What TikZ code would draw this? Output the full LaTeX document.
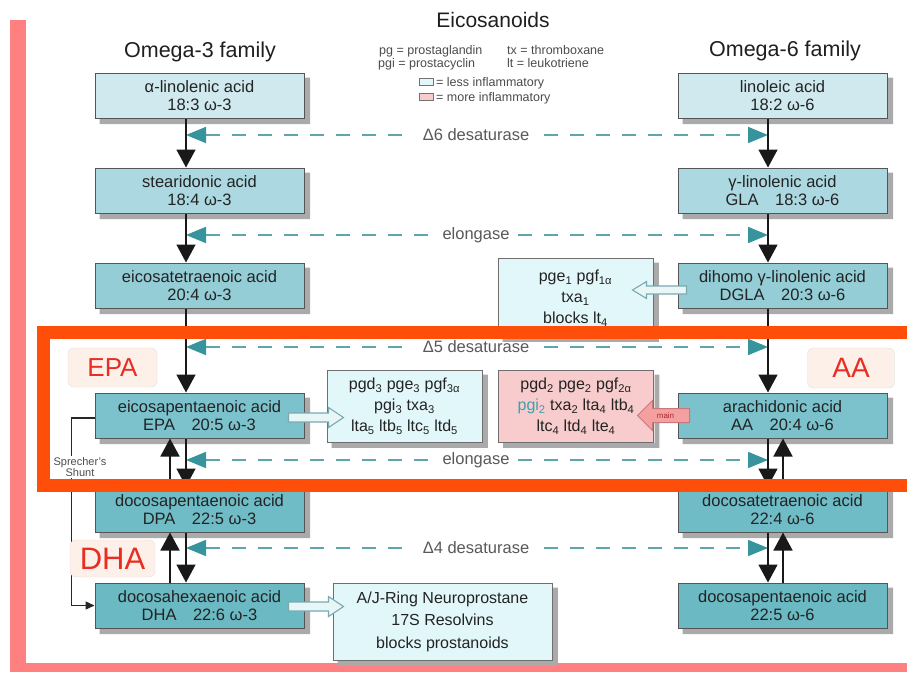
\documentclass[tikz,border=0pt]{standalone}
\usepackage{fontspec}
\setmainfont{Liberation Sans}
\usetikzlibrary{arrows.meta,calc}
\definecolor{framepink}{RGB}{255,128,128}
\definecolor{frameorange}{RGB}{255,78,10}
\definecolor{cA}{RGB}{208,233,239}
\definecolor{cB}{RGB}{172,217,225}
\definecolor{cC}{RGB}{148,205,214}
\definecolor{cD}{RGB}{124,194,204}
\definecolor{cE}{RGB}{112,188,198}
\definecolor{cF}{RGB}{106,185,195}
\definecolor{prodfill}{RGB}{226,247,250}
\definecolor{pinkfill}{RGB}{248,204,204}
\definecolor{mainfill}{RGB}{244,160,160}
\definecolor{mainline}{RGB}{200,120,120}
\definecolor{maintext}{RGB}{170,40,40}
\definecolor{enzteal}{RGB}{55,148,156}
\definecolor{dashteal}{RGB}{95,165,172}
\definecolor{peach}{RGB}{253,240,233}
\definecolor{labelred}{RGB}{232,45,35}
\definecolor{boxline}{RGB}{85,85,85}
\definecolor{txt}{RGB}{35,35,35}
\definecolor{pgiteal}{RGB}{60,160,176}
\definecolor{hollowfill}{RGB}{232,246,248}
\definecolor{hollowline}{RGB}{120,170,176}
\definecolor{shadowgray}{RGB}{170,170,170}
\tikzset{
  box/.style={draw=boxline, line width=1pt, minimum width=209pt, minimum height=45pt,
    inner sep=0pt, align=center, text=txt, font=\fontsize{16.5}{18}\selectfont},
  prod/.style={draw=boxline!85, line width=0.9pt, fill=prodfill, minimum width=155pt,
    minimum height=72pt, inner sep=0pt, align=center, text=txt,
    font=\fontsize{16}{21}\selectfont},
  lbl/.style={draw=black!12, fill=peach, rounded corners=6pt, text=labelred, inner sep=0pt},
  enz/.style={dashteal, line width=1.8pt, dash pattern=on 14pt off 12pt,
    {Triangle[width=16pt,length=20pt,color=enzteal]}-{Triangle[width=16pt,length=20pt,color=enzteal]}},
  enzlbl/.style={fill=white, inner xsep=9pt, inner ysep=2pt, text=black!65,
    font=\fontsize{16.5}{18}\selectfont},
  flow/.style={draw=black!90, line width=1.6pt, -{Triangle[width=19pt,length=18pt]}},
  hollow/.style={draw=hollowline, fill=hollowfill, line width=1.1pt, line join=miter},
  legtxt/.style={anchor=base west, inner sep=0pt, text=black!70, font=\fontsize{12.5}{14}\selectfont},
  legbox/.style={draw=black!55, line width=0.6pt, minimum width=14pt, minimum height=7pt, inner sep=0pt},
  title/.style={anchor=base, inner sep=0pt, text=black!88, font=\fontsize{21.5}{24}\selectfont},
  shadowstrip/.style={fill=shadowgray, draw=none}
}
\begin{document}
\begin{tikzpicture}[x=1pt,y=-1pt]
\useasboundingbox (0,0) rectangle (907,672);
\fill[white] (0,0) rectangle (907,672);
% pink frame
\fill[framepink] (10,20) rectangle (26,672);
\fill[framepink] (10,663) rectangle (907,672);

% titles and legend
\node[title] (t3) at (200,57) {Omega-3 family};
\node[title] (t6) at (785,56) {Omega-6 family};
\node[title, font=\fontsize{21}{24}\selectfont] (eico) at (493,27) {Eicosanoids};
\node[legtxt] (lg1) at (379,54) {pg = prostaglandin};
\node[legtxt] (lg2) at (378,67) {pgi = prostacyclin};
\node[legtxt] (lg3) at (507,54) {tx = thromboxane};
\node[legtxt] (lg4) at (507,67) {lt = leukotriene};
\node[legbox, fill=prodfill] (lgb1) at (426,81.5) {};
\node[legbox, fill=pinkfill] (lgb2) at (426,96.5) {};
\node[legtxt] (lg5) at (436,86) {= less inflammatory};
\node[legtxt] (lg6) at (436,101) {= more inflammatory};

% enzyme dashed lines
\foreach \n/\y in {1/135,2/235,3/347,4/460,5/548}{
  \coordinate (d\n L) at (186,\y);
  \coordinate (d\n R) at (768,\y);
  \draw[enz] (d\n L) -- (d\n R);
}
\node[enzlbl] (e1) at (476,135) {Δ6 desaturase};
\node[enzlbl] (e2) at (476,235) {elongase};
\node[enzlbl] (e3) at (476,347) {Δ5 desaturase};
\node[enzlbl] (e4) at (476,460) {elongase};
\node[enzlbl] (e5) at (476,548) {Δ4 desaturase};

% columns
\coordinate (cl) at (186,0);
\coordinate (cr) at (768,0);
\coordinate (ul) at (170,0);
\coordinate (ur) at (783,0);

% omega-3 boxes
\node[box, fill=cA] (ala) at (199.5,95.5) {α-linolenic acid\\18:3 ω-3};
\node[box, fill=cB] (sda) at (199.5,190.5) {stearidonic acid\\18:4 ω-3};
\node[box, fill=cC] (eta) at (199.5,285.5) {eicosatetraenoic acid\\20:4 ω-3};
\node[box, fill=cD] (epa) at (199.5,415.5) {eicosapentaenoic acid\\EPA\quad 20:5 ω-3};
\node[box, fill=cE] (dpa) at (199.5,509.5) {docosapentaenoic acid\\DPA\quad 22:5 ω-3};
\node[box, fill=cF] (dha) at (199.5,605.5) {docosahexaenoic acid\\DHA\quad 22:6 ω-3};
% omega-6 boxes
\node[box, fill=cA] (la) at (782.5,95.5) {linoleic acid\\18:2 ω-6};
\node[box, fill=cB] (gla) at (782.5,190.5) {γ-linolenic acid\\GLA\quad 18:3 ω-6};
\node[box, fill=cC] (dgla) at (782.5,285.5) {dihomo γ-linolenic acid\\DGLA\quad 20:3 ω-6};
\node[box, fill=cD] (aa) at (782.5,415.5) {arachidonic acid\\AA\quad 20:4 ω-6};
\node[box, fill=cE] (dta) at (782.5,509.5) {docosatetraenoic acid\\22:4 ω-6};
\node[box, fill=cF] (dpa6) at (782.5,605.5) {docosapentaenoic acid\\22:5 ω-6};

% product boxes
\node[prod, minimum height=78pt, text depth=0pt] (p1) at (575.5,297)
  {\fontsize{16}{19}\selectfont pge\textsubscript{1} pgf\textsubscript{1α}\\txa\textsubscript{1}\\blocks lt\textsubscript{4}};
\node[prod] (p3) at (404.5,406)
  {pgd\textsubscript{3} pge\textsubscript{3} pgf\textsubscript{3α}\\pgi\textsubscript{3} txa\textsubscript{3}\\lta\textsubscript{5} ltb\textsubscript{5} ltc\textsubscript{5} ltd\textsubscript{5}};
\node[prod, fill=pinkfill] (p2) at (576,406)
  {pgd\textsubscript{2} pge\textsubscript{2} pgf\textsubscript{2α}\\{\color{pgiteal}pgi\textsubscript{2}} txa\textsubscript{2} lta\textsubscript{4} ltb\textsubscript{4}\\ltc\textsubscript{4} ltd\textsubscript{4} lte\textsubscript{4}};
\node[prod, minimum width=219pt, minimum height=77pt, font=\fontsize{16}{22.5}\selectfont] (pr) at (442.5,621.5)
  {A/J-Ring Neuroprostane\\17S Resolvins\\blocks prostanoids};

% drop shadows: an L-shaped strip along the right and lower sides of each box
\foreach \b in {ala,sda,eta,epa,dpa,dha,la,gla,dgla,aa,dta,dpa6,p1,p2,p3,pr}{
  \path (\b.north east) coordinate (sNE) (\b.south east) coordinate (sSE)
        (\b.south west) coordinate (sSW);
  \fill[shadowstrip] ($(sNE)+(0.6,5)$) -- ($(sNE)+(5.5,5)$) -- ($(sSE)+(5.5,5.5)$)
     -- ($(sSW)+(5,5.5)$) -- ($(sSW)+(5,0.6)$) -- ($(sSE)+(0.6,0.6)$) -- cycle;
}

% down arrows
\draw[flow] (ala.south -| cl) -- (sda.north -| cl);
\draw[flow] (sda.south -| cl) -- (eta.north -| cl);
\draw[flow] (eta.south -| cl) -- (epa.north -| cl);
\draw[flow] (epa.south -| cl) -- (dpa.north -| cl);
\draw[flow] (dpa.south -| cl) -- (dha.north -| cl);
\draw[flow] (la.south -| cr) -- (gla.north -| cr);
\draw[flow] (gla.south -| cr) -- (dgla.north -| cr);
\draw[flow] (dgla.south -| cr) -- (aa.north -| cr);
\draw[flow] (aa.south -| cr) -- (dta.north -| cr);
\draw[flow] (dta.south -| cr) -- (dpa6.north -| cr);
% up arrows
\draw[flow] (dpa.north -| ul) -- (epa.south -| ul);
\draw[flow] (dha.north -| ul) -- (dpa.south -| ul);
\draw[flow] (dta.north -| ur) -- (aa.south -| ur);
\draw[flow] (dpa6.north -| ur) -- (dta.south -| ur);

% Sprecher's shunt
\draw[draw=black!85, line width=1.3pt, -{Triangle[width=8pt,length=9pt]}]
  ($(epa.west)+(0,2.5)$) -- ++(-23,0) |- (dha.west);
\node[fill=white, inner sep=1pt, align=center, text=black!70,
  font=\fontsize{11}{11.5}\selectfont] (shunt) at (80,467) {Sprecher's\\Shunt};

% block arrows
\draw[hollow, shift={($(epa.east)+(0,2)$)}]
  (-16,-4.5) -- (24,-4.5) -- (24,-10) -- (39,0) -- (24,10) -- (24,4.5) -- (-16,4.5) -- cycle;
\draw[hollow, shift={($(dha.east)+(0,1)$)}]
  (-16,-4.5) -- (24,-4.5) -- (24,-10) -- (39,0) -- (24,10) -- (24,4.5) -- (-16,4.5) -- cycle;
\draw[hollow, shift={($(dgla.west)+(0,4.5)$)}]
  (9,-4) -- (-31,-4) -- (-31,-8.5) -- (-45,0) -- (-31,8.5) -- (-31,4) -- (9,4) -- cycle;
\draw[draw=mainline, fill=mainfill, line width=1pt, shift={(aa.west)}]
  (12,-7) -- (-25,-7) -- (-25,-15) -- (-40,0) -- (-25,15) -- (-25,7) -- (12,7) -- cycle;
\node[inner sep=0pt, text=maintext, font=\fontsize{8}{8}\selectfont] (mainlbl)
  at ($(aa.west)+(-12,0)$) {main};

% highlight labels
\node[lbl, minimum width=89pt, minimum height=39pt, font=\fontsize{26}{28}\selectfont] (lepa) at (112.5,367.5) {EPA};
\node[lbl, minimum width=87pt, minimum height=40pt, font=\fontsize{28}{30}\selectfont] (laa) at (851,368) {AA};
\node[lbl, minimum width=85pt, minimum height=37pt, font=\fontsize{31}{32}\selectfont] (ldha) at (112.5,558.5) {DHA};

% orange highlight frame
\draw[frameorange, line width=13pt] (43,332.5) rectangle (940,485);
\end{tikzpicture}
\end{document}
